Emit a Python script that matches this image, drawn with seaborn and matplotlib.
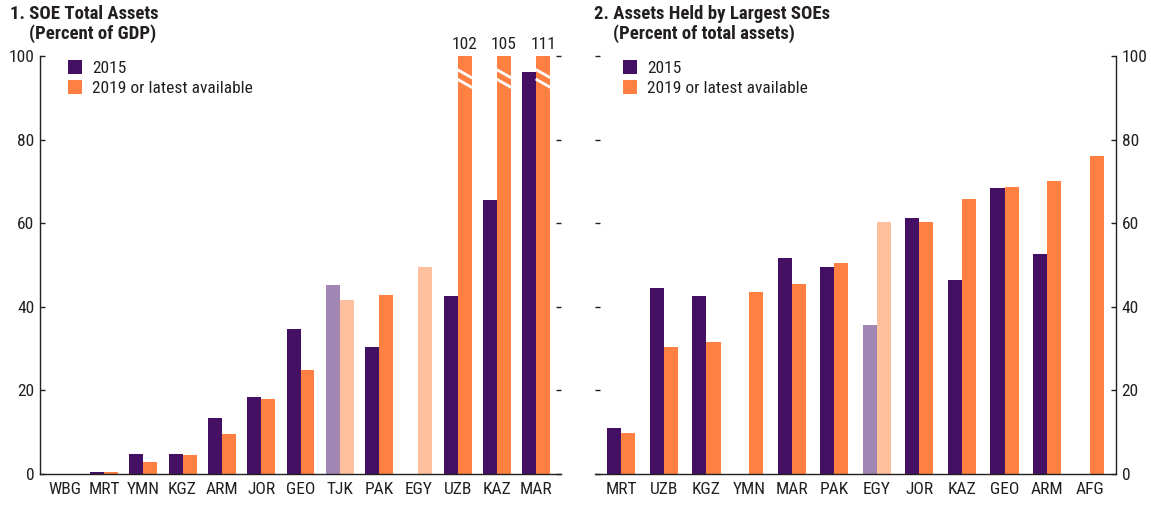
import numpy as np
import pandas as pd
import matplotlib
matplotlib.use("Agg")
import matplotlib.pyplot as plt
from matplotlib import font_manager
from matplotlib.patches import Patch
from matplotlib.ticker import FixedLocator
import seaborn as sns

# ---------------- data ----------------
p1_countries = ["WBG", "MRT", "YMN", "KGZ", "ARM", "JOR", "GEO", "TJK", "PAK", "EGY", "UZB", "KAZ", "MAR"]
p1_2015 = [0.0, 0.5, 4.8, 4.7, 13.3, 18.5, 34.8, 45.3, 30.4, np.nan, 42.6, 65.6, 96.2]
p1_2019 = [0.0, 0.5, 2.8, 4.5, 9.6, 18.0, 24.9, 41.7, 42.9, 49.6, 102, 105, 111]
p1_light = ["TJK", "EGY"]

p2_countries = ["MRT", "UZB", "KGZ", "YMN", "MAR", "PAK", "EGY", "JOR", "KAZ", "GEO", "ARM", "AFG"]
p2_2015 = [11.0, 44.5, 42.7, np.nan, 51.7, 49.5, 35.6, 61.2, 46.4, 68.4, 52.6, np.nan]
p2_2019 = [9.7, 30.3, 31.5, 43.5, 45.4, 50.4, 60.3, 60.3, 65.7, 68.6, 70.2, 76.0]
p2_light = ["EGY"]

series_labels = ["2015", "2019 or latest available"]
titles1 = ["1. SOE Total Assets", "(Percent of GDP)"]
titles2 = ["2. Assets Held by Largest SOEs", "(Percent of total assets)"]
yticks = [0, 20, 40, 60, 80, 100]

# ---------------- style ----------------
PURPLE = "#431063"
ORANGE = "#FF8040"
LPURPLE = "#A286B3"
LORANGE = "#FFC19D"
TXT = "#231F20"

sns.set_style("white")
available = {f.name for f in font_manager.fontManager.ttflist}
prefs = ["Liberation Sans Narrow", "Roboto Condensed", "DejaVu Sans Condensed",
         "Open Sans Condensed", "Roboto", "Liberation Sans", "DejaVu Sans"]
chosen = [f for f in prefs if f in available]
FONT = chosen[0] if chosen else "DejaVu Sans"
narrow = FONT in ("Liberation Sans Narrow", "Roboto Condensed", "Open Sans Condensed")
plt.rcParams["font.family"] = [FONT, "DejaVu Sans"]
plt.rcParams["text.color"] = TXT
plt.rcParams["xtick.color"] = TXT
plt.rcParams["ytick.color"] = TXT

FS = 12.5 if narrow else 10.5
TFS = 13.5 if narrow else 10.5

fig = plt.figure(figsize=(11.51, 5.05), dpi=100)
ax1 = fig.add_axes([40 / 1151, 31 / 505, 521 / 1151, 418 / 505])
ax2 = fig.add_axes([595 / 1151, 31 / 505, 521 / 1151, 418 / 505])


def make_df(countries, v15, v19):
    rows = []
    for c, a, b in zip(countries, v15, v19):
        rows.append((c, series_labels[0], a))
        rows.append((c, series_labels[1], b))
    return pd.DataFrame(rows, columns=["country", "year", "value"])


def draw(ax, countries, v15, v19, light, width):
    df = make_df(countries, v15, v19)
    sns.barplot(data=df, x="country", y="value", hue="year", order=countries,
                hue_order=series_labels, palette=[PURPLE, ORANGE],
                width=width, errorbar=None, ax=ax, legend=False,
                saturation=1, linewidth=0)
    for ci, cont in enumerate(ax.containers):
        for p in cont.patches:
            cx = p.get_x() + p.get_width() / 2
            idx = int(round(cx))
            if countries[idx] in light:
                p.set_facecolor(LPURPLE if ci == 0 else LORANGE)
    n = len(countries)
    ax.set_ylim(0, 100)
    ax.set_xlabel("")
    ax.set_ylabel("")
    ax.set_yticks(yticks)
    ax.xaxis.set_minor_locator(FixedLocator(np.arange(-0.5, n, 1.0)))
    ax.tick_params(axis="x", which="major", length=0, labelsize=FS, pad=6)
    ax.tick_params(axis="x", which="minor", direction="in", length=3.6, width=1, color=TXT)
    ax.tick_params(axis="y", which="major", direction="in", length=3.6, width=1, labelsize=FS,
                   left=True, right=True, color=TXT)
    for s in ax.spines.values():
        s.set_color(TXT)
        s.set_linewidth(1)
    ax.spines["top"].set_visible(False)


draw(ax1, p1_countries, p1_2015, p1_2019, p1_light, 0.71)
draw(ax2, p2_countries, p2_2015, p2_2019, p2_light, 0.66)

e1 = 5 / (516 / 13)
ax1.set_xlim(-0.5 - e1, 12.5 + e1)
e2 = 5 / (511 / 12)
ax2.set_xlim(-0.5 - e2, 11.5 + e2)

ax1.spines["right"].set_visible(False)
ax1.tick_params(axis="y", labelleft=True, labelright=False, pad=4)
ax2.spines["left"].set_visible(False)
ax2.tick_params(axis="y", labelleft=False, labelright=True, pad=4)

# broken bars in panel 1 with value labels
for p in ax1.containers[1].patches:
    h = p.get_height()
    if h > 100:
        x0 = p.get_x()
        w = p.get_width()
        for yy in (96.8, 94.5):
            ax1.plot([x0 - 0.02, x0 + w + 0.02], [yy, yy - 2.1], color="white", lw=2,
                     solid_capstyle="butt", zorder=5, clip_on=False)
        ax1.annotate(f"{h:.0f}", xy=(x0 + w / 2, 100), xytext=(0, 3),
                     textcoords="offset points", ha="center", va="bottom",
                     fontsize=FS, annotation_clip=False)

handles = [Patch(facecolor=PURPLE, edgecolor="none"), Patch(facecolor=ORANGE, edgecolor="none")]
for ax in (ax1, ax2):
    ax.legend(handles, series_labels, loc="upper left", bbox_to_anchor=(0.053, 0.99),
              frameon=False, fontsize=FS, handlelength=0.85, handleheight=0.85,
              handletextpad=0.55, labelspacing=0.25, borderpad=0, borderaxespad=0)

fig.text(10 / 1151, 1 - 5 / 505, titles1[0], fontsize=TFS, fontweight="bold", va="top", ha="left")
fig.text(29 / 1151, 1 - 24 / 505, titles1[1], fontsize=TFS, fontweight="bold", va="top", ha="left")
fig.text(594 / 1151, 1 - 5 / 505, titles2[0], fontsize=TFS, fontweight="bold", va="top", ha="left")
fig.text(613 / 1151, 1 - 24 / 505, titles2[1], fontsize=TFS, fontweight="bold", va="top", ha="left")

fig.savefig("out.png", dpi=100)
